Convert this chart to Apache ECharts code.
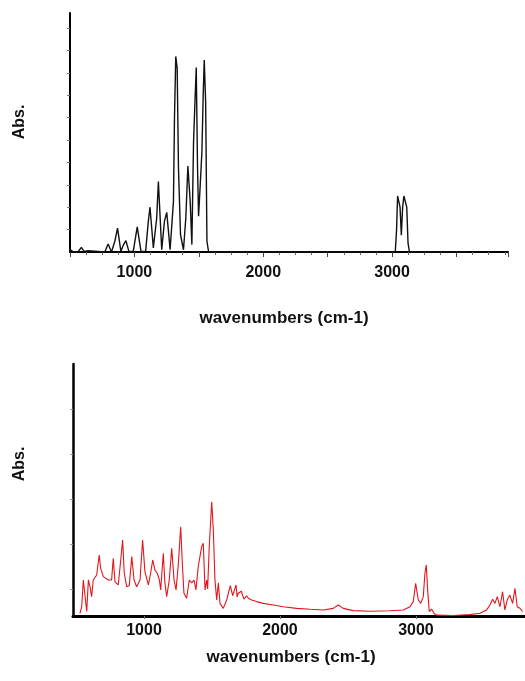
<!DOCTYPE html>
<html>
<head>
<meta charset="utf-8">
<title>IR spectra</title>
<script src="https://cdn.jsdelivr.net/npm/echarts@6/dist/echarts.min.js"></script>
<style>
    html, body { margin: 0; padding: 0; background: #fff; }
    #main { width: 525px; height: 681px; }
</style>
</head>
<body>
<div id="main"></div>
<script>
// 上图：计算谱 (wavenumber, abs)
var topWave = [500, 508, 525, 562, 588, 609, 640, 653, 770, 796, 822, 848, 869, 895, 916, 934, 957, 991,
    1022, 1051, 1087, 1108, 1121, 1147, 1160, 1173, 1186, 1212, 1233, 1251, 1277, 1303, 1311, 1321, 1332,
    1342, 1358, 1381, 1399, 1415, 1433, 1446, 1459, 1472, 1480, 1490, 1498, 1511, 1524, 1534, 1542, 1553,
    1563, 1576, 3025, 3035, 3043, 3052, 3062, 3072, 3082, 3092, 3105, 3114, 3124, 3135, 3590];
var topAbs = [0.012, 0.02, 0, 0, 0.021, 0.003, 0.006, 0, 0, 0.036, 0, 0.048, 0.107, 0.003, 0.033, 0.051, 0.003, 0.003,
    0.112, 0.003, 0.003, 0.137, 0.2, 0.018, 0.01, 0.152, 0.315, 0.01, 0.137, 0.177, 0.01, 0.226, 0.598, 0.873, 0.82,
    0.375, 0.077, 0.01, 0.152, 0.384, 0.226, 0.033, 0.49, 0.702, 0.824, 0.375, 0.16, 0.3, 0.449, 0.702, 0.857, 0.67,
    0.048, 0, 0, 0.1, 0.25, 0.25, 0.2, 0.075, 0.2, 0.25, 0.25, 0.2, 0.04, 0, 0];
var topTicksY = [0.1, 0.2, 0.3, 0.4, 0.5, 0.6, 0.7, 0.8, 0.9, 1.0];

// 下图：实测谱
var botWave = [529, 542, 554, 558, 579, 591, 603, 615, 627, 652, 671, 681, 701, 738, 762, 774, 787, 811, 829, 843,
    855, 873, 892, 910, 927, 946, 971, 990, 1007, 1032, 1049, 1064, 1081, 1098, 1113, 1123, 1142, 1154, 1167,
    1186, 1204, 1221, 1236, 1253, 1270, 1282, 1294, 1314, 1333, 1351, 1368, 1382, 1399, 1424, 1436, 1449, 1461,
    1468, 1480, 1498, 1510, 1522, 1535, 1547, 1559, 1583, 1608, 1620, 1627, 1635, 1645, 1652, 1662, 1670, 1677,
    1685, 1693, 1706, 1716, 1726, 1735, 1743, 1755, 1767, 1792, 1829, 1877, 1951, 2024, 2123, 2221, 2318, 2392,
    2429, 2466, 2539, 2662, 2809, 2907, 2956, 2980, 2998, 3005, 3017, 3035, 3054, 3066, 3076, 3086, 3098, 3115,
    3132, 3152, 3274, 3397, 3471, 3520, 3544, 3564, 3581, 3598, 3618, 3637, 3654, 3671, 3691, 3711, 3728, 3745,
    3765, 3785];
var botAbs = [-0.108, -0.079, 0.04, 0.044, -0.1, 0.04, 0.01, -0.034, 0.04, 0.062, 0.151, 0.092, 0.055, 0.04, 0.04,
    0.136, 0.032, 0.018, 0.129, 0.218, 0.07, 0.01, 0.016, 0.144, 0.04, 0.01, 0.04, 0.218, 0.077, 0.018, 0.07, 0.129,
    0.084, 0.07, 0.04, -0.004, 0.159, 0.027, -0.034, 0.04, 0.181, 0.04, -0.004, 0.114, 0.277, 0.114, -0.019, -0.041,
    0.04, 0.027, 0.04, -0.004, 0.099, 0.188, 0.203, -0.004, 0.04, 0, 0.188, 0.388, 0.262, 0.04, -0.049, 0.027,
    -0.064, -0.086, -0.049, -0.02, -0.027, 0.015, 0.01, -0.03, -0.034, 0.005, 0.018, -0.035, -0.019, -0.027, -0.01,
    -0.004, -0.045, -0.041, -0.03, -0.041, -0.049, -0.056, -0.064, -0.071, -0.079, -0.086, -0.09, -0.093, -0.086,
    -0.071, -0.086, -0.096, -0.099, -0.097, -0.093, -0.079, -0.056, 0.025, 0.032, -0.049, -0.064, -0.034, 0.07,
    0.107, -0.004, -0.1, -0.089, -0.108, -0.116, -0.118, -0.114, -0.108, -0.093, -0.071, -0.046, -0.064, -0.034,
    -0.079, -0.012, -0.093, -0.049, -0.027, -0.064, 0.003, -0.079, -0.086, -0.1];
var botTicksY = [0, 0.2, 0.4, 0.6, 0.8];
var botTicksX = [1000, 2000, 3000];

function zip(xs, ys) {
    var out = [];
    for (var i = 0; i < xs.length; i++) out.push([xs[i], ys[i]]);
    return out;
}

var labelFont = {fontSize: 16, fontWeight: 'bold', fontFamily: 'Liberation Sans', color: '#111'};
var nameFont = 'bold 17px "Liberation Sans"';
var absFont = 'bold 16px "Liberation Sans"';

var option = {
    animation: false,
    backgroundColor: '#fff',
    grid: [
        {left: 70, top: 13, width: 438, height: 239},
        {left: 73, top: 364, width: 452, height: 252}
    ],
    xAxis: [
        {
            type: 'value', gridIndex: 0, min: 500, max: 3900, interval: 500,
            axisLine: {onZero: false, lineStyle: {color: '#000', width: 2}},
            axisTick: {show: true, length: 5, lineStyle: {color: '#444', width: 1}},
            minorTick: {show: true, splitNumber: 4, length: 3, lineStyle: {color: '#666'}},
            axisLabel: Object.assign({margin: 13, formatter: function (v) { return v % 1000 === 0 ? String(v) : ''; }}, labelFont),
            splitLine: {show: false}
        },
        {
            type: 'value', gridIndex: 1, min: 478, max: 3802,
            axisLine: {onZero: false, lineStyle: {color: '#000', width: 3}},
            axisTick: {show: true, length: 3, customValues: botTicksX, lineStyle: {color: '#777'}},
            axisLabel: Object.assign({margin: 7, customValues: botTicksX, formatter: function (v) { return String(v); }}, labelFont),
            splitLine: {show: false}
        }
    ],
    yAxis: [
        {
            type: 'value', gridIndex: 0, min: 0, max: 1.067,
            axisLine: {show: true, onZero: false, lineStyle: {color: '#000', width: 2}},
            axisTick: {show: true, length: 3, customValues: topTicksY, lineStyle: {color: '#777'}},
            axisLabel: {show: false},
            splitLine: {show: false}
        },
        {
            type: 'value', gridIndex: 1, min: -0.12, max: 1.0,
            axisLine: {show: true, onZero: false, lineStyle: {color: '#000', width: 2.5}},
            axisTick: {show: true, length: 3, customValues: botTicksY, lineStyle: {color: '#999'}},
            axisLabel: {show: false},
            splitLine: {show: false}
        }
    ],
    graphic: [
        {type: 'text', x: 20, y: 122, rotation: Math.PI / 2,
            style: {text: 'Abs.', font: absFont, fill: '#111', align: 'center', verticalAlign: 'middle'}},
        {type: 'text', x: 20, y: 464, rotation: Math.PI / 2,
            style: {text: 'Abs.', font: absFont, fill: '#111', align: 'center', verticalAlign: 'middle'}},
        {type: 'text', x: 284, y: 318,
            style: {text: 'wavenumbers (cm-1)', font: nameFont, fill: '#111', align: 'center', verticalAlign: 'middle'}},
        {type: 'text', x: 291, y: 657,
            style: {text: 'wavenumbers (cm-1)', font: nameFont, fill: '#111', align: 'center', verticalAlign: 'middle'}}
    ],
    series: [
        {
            type: 'line', xAxisIndex: 0, yAxisIndex: 0,
            data: zip(topWave, topAbs),
            symbol: 'none',
            lineStyle: {color: '#111', width: 1.4}
        },
        {
            type: 'line', xAxisIndex: 1, yAxisIndex: 1,
            data: zip(botWave, botAbs),
            symbol: 'none',
            lineStyle: {color: '#e3161c', width: 1.1}
        }
    ]
};

var myChart = echarts.init(document.getElementById('main'));
myChart.setOption(option);
</script>
</body>
</html>
